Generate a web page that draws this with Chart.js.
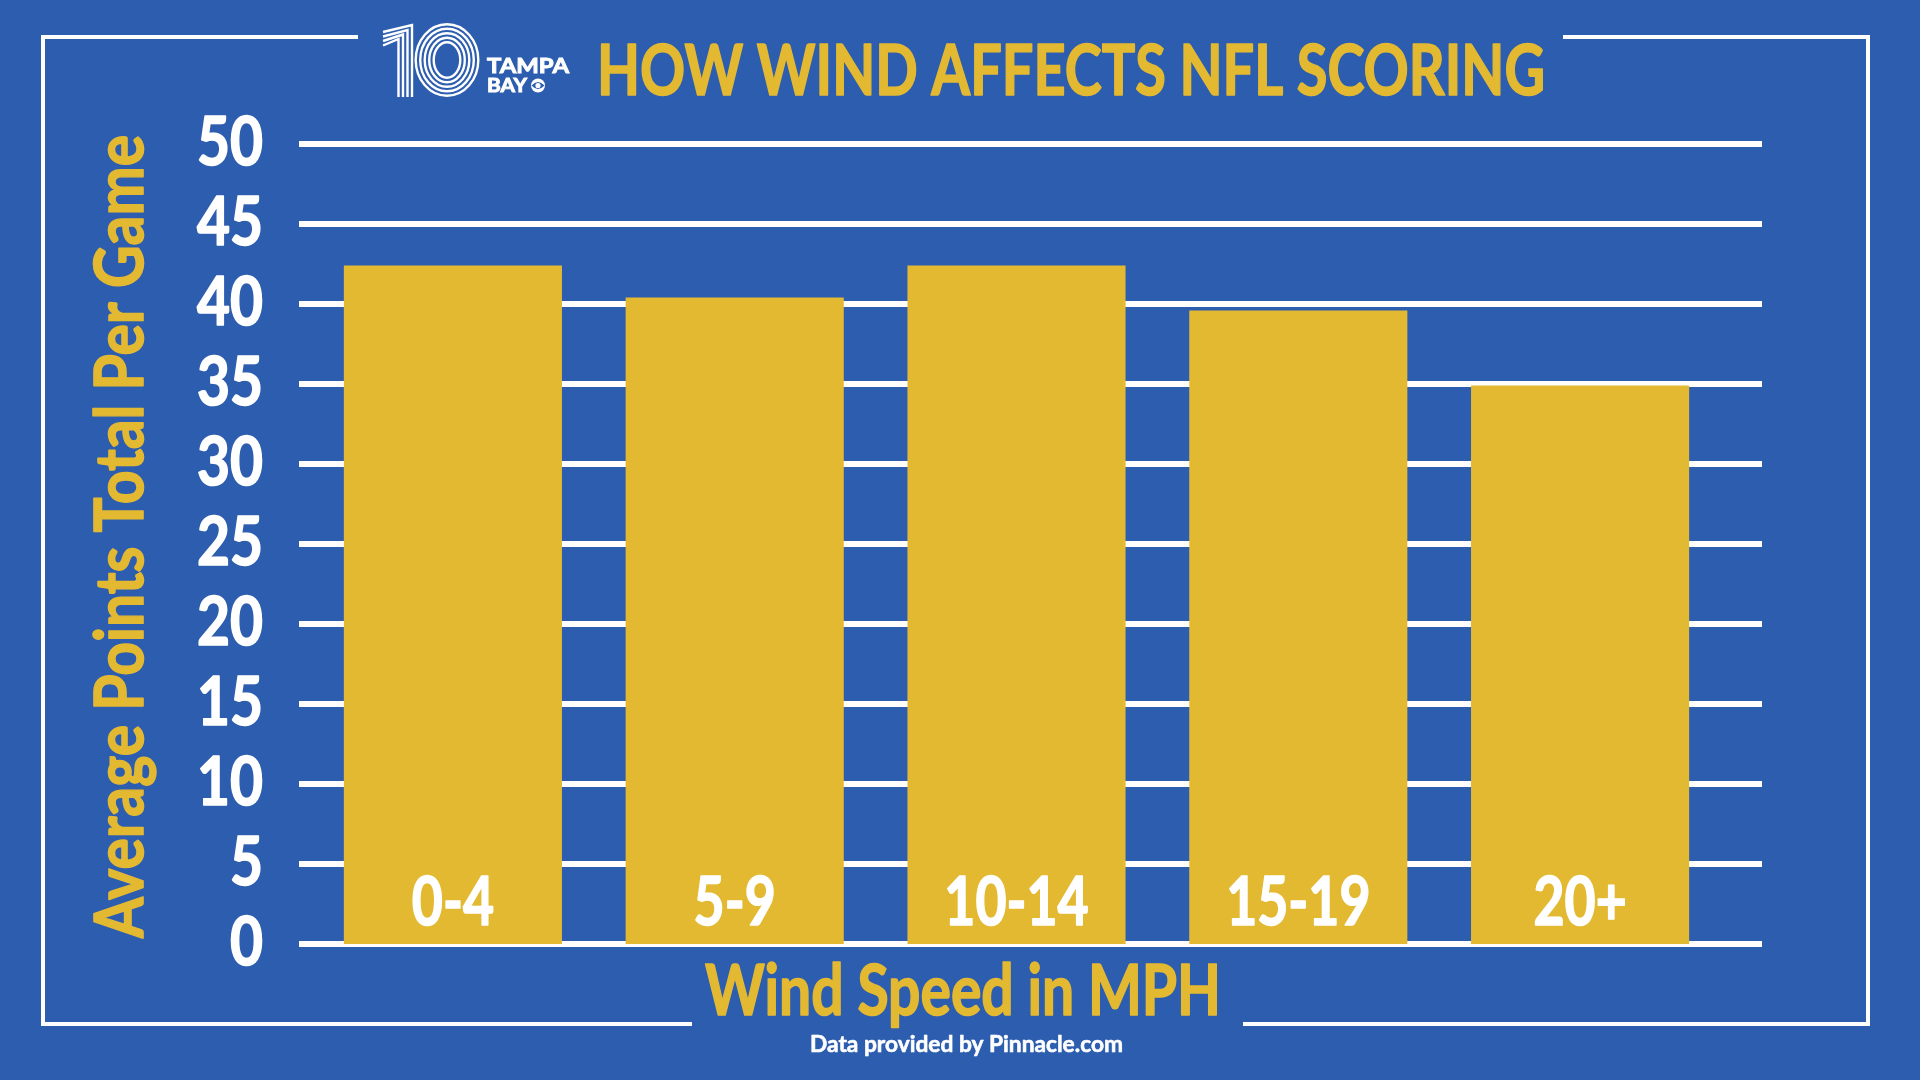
<!DOCTYPE html>
<html>
<head>
<meta charset="utf-8">
<title>How Wind Affects NFL Scoring</title>
<script src="https://cdn.jsdelivr.net/npm/chart.js@4.4.1/dist/chart.umd.min.js"></script>
<style>
  html, body { margin: 0; padding: 0; background: #2c5dae; }
  #wrap { position: relative; width: 1920px; height: 1080px; overflow: hidden; }
  #windChart { display: block; }
  #logo { position: absolute; left: 370px; top: 15px; }
</style>
</head>
<body>
<div id="wrap">
  <canvas id="windChart" width="1920" height="1080"></canvas>
  <svg id="logo" width="200" height="95" viewBox="0 0 200 95">
    <g fill="none" stroke="#fff" stroke-width="2.4">
      <path d="M42 82 V10 L13 17" />
      <path d="M37.5 82 V15 L13 21.5" />
      <path d="M33 82 V19.5 L13 26" />
      <path d="M28.5 82 V24 L13 30.5" />
      <ellipse cx="77" cy="45" rx="31.3" ry="35.8" />
      <ellipse cx="77" cy="45" rx="26.8" ry="31.3" />
      <ellipse cx="77" cy="45" rx="22.3" ry="26.8" />
      <ellipse cx="77" cy="45" rx="17.8" ry="22.3" />
      <ellipse cx="77" cy="45" rx="13.3" ry="17.8" />
    </g>
    <g fill="#fff" stroke="#fff" stroke-width="0.9" font-family="Lato" font-weight="700">
      <text x="117" y="58" font-size="20" textLength="82" lengthAdjust="spacingAndGlyphs">TAMPA</text>
      <text x="117" y="77" font-size="19" textLength="40" lengthAdjust="spacingAndGlyphs">BAY</text>
    </g>
    <circle cx="168" cy="70.5" r="7" fill="#fff" />
    <path d="M161.5 70.5 Q168 63.5 174.5 70.5 Q168 77.5 161.5 70.5 Z" fill="#2c5dae" />
    <circle cx="168" cy="70.5" r="2.6" fill="#fff" />
  </svg>
</div>
<script>
const windRanges = ["0-4", "5-9", "10-14", "15-19", "20+"];
const avgPoints = [42.4, 40.4, 42.4, 39.6, 34.9];
const yMin = 0;
const yMax = 50;
const yStep = 5;

const chartTitle = "HOW WIND AFFECTS NFL SCORING";
const xTitle = "Wind Speed in MPH";
const yTitle = "Average Points Total Per Game";
const sourceNote = "Data provided by Pinnacle.com";

const BLUE = "#2c5dae";
const GOLD = "#e4b932";
const WHITE = "#ffffff";
const FONT = "Lato";

// draws text squeezed horizontally, either to a target width or by a factor,
// with a thin outline in the same colour to make it a bit heavier
function drawText(ctx, text, x, y, o) {
  ctx.save();
  ctx.font = `700 ${o.size}px ${FONT}`;
  const w = ctx.measureText(text).width;
  const k = o.width ? o.width / w : o.squeeze || 1;
  ctx.translate(x, y);
  if (o.rotate) ctx.rotate(o.rotate);
  ctx.scale(k, 1);
  ctx.fillStyle = o.color;
  ctx.strokeStyle = o.color;
  ctx.lineWidth = o.heavy == null ? 1.6 : o.heavy;
  ctx.lineJoin = "round";
  ctx.textAlign = o.align || "left";
  ctx.textBaseline = "alphabetic";
  ctx.fillText(text, 0, 0);
  if (ctx.lineWidth > 0) ctx.strokeText(text, 0, 0);
  ctx.restore();
}

const framePlugin = {
  id: "frame",
  beforeDraw(chart) {
    const ctx = chart.ctx;
    ctx.save();
    ctx.fillStyle = BLUE;
    ctx.fillRect(0, 0, chart.width, chart.height);
    ctx.strokeStyle = WHITE;
    ctx.lineWidth = 4;
    ctx.beginPath();
    ctx.moveTo(358, 37); ctx.lineTo(43, 37); ctx.lineTo(43, 1024); ctx.lineTo(692, 1024);
    ctx.moveTo(1563, 37); ctx.lineTo(1868, 37); ctx.lineTo(1868, 1024); ctx.lineTo(1243, 1024);
    ctx.stroke();
    ctx.restore();
  },
  beforeDatasetsDraw(chart) {
    // thick yard-line style grid, a bit wider than the plot area
    const { ctx, chartArea, scales } = chart;
    ctx.save();
    ctx.fillStyle = WHITE;
    scales.y.ticks.forEach((t) => {
      const y = scales.y.getPixelForValue(t.value);
      ctx.fillRect(chartArea.left - 13, y - 3, chartArea.right - chartArea.left + 54, 6);
    });
    ctx.restore();
  },
  afterDatasetsDraw(chart) {
    const { ctx, scales } = chart;
    const base = scales.y.getPixelForValue(0);
    chart.data.labels.forEach((lab, i) => {
      drawText(ctx, lab, scales.x.getPixelForValue(i), base - 19, {
        size: 67, color: WHITE, align: "center", squeeze: 0.8,
      });
    });
    scales.y.ticks.forEach((t) => {
      drawText(ctx, String(t.value), chart.chartArea.left - 49, scales.y.getPixelForValue(t.value) + 21, {
        size: 67, color: WHITE, align: "right", squeeze: 0.85,
      });
    });
  },
  afterDraw(chart) {
    const ctx = chart.ctx;
    drawText(ctx, chartTitle, 597, 95, { size: 70, color: GOLD, width: 948 });
    drawText(ctx, xTitle, 705, 1015, { size: 70, color: GOLD, width: 516 });
    drawText(ctx, sourceNote, 810, 1052, { size: 23, color: WHITE, width: 313, heavy: 0.6 });
    drawText(ctx, yTitle, 143, 938, { size: 67, color: GOLD, width: 803, rotate: -Math.PI / 2 });
  },
};

function buildChart() {
  new Chart(document.getElementById("windChart"), {
    type: "bar",
    data: {
      labels: windRanges,
      datasets: [
        {
          label: "Average points",
          data: avgPoints,
          backgroundColor: GOLD,
          borderWidth: 0,
          categoryPercentage: 1,
          barPercentage: 0.774,
        },
      ],
    },
    options: {
      responsive: false,
      animation: false,
      devicePixelRatio: 1,
      layout: { padding: { left: 312, right: 199, top: 144, bottom: 136 } },
      scales: {
        x: { display: false },
        y: { display: false, min: yMin, max: yMax, ticks: { stepSize: yStep } },
      },
      plugins: {
        legend: { display: false },
        tooltip: { enabled: false },
      },
    },
    plugins: [framePlugin],
  });
}

if (document.fonts && document.fonts.load) {
  document.fonts.load(`700 70px ${FONT}`).then(buildChart, buildChart);
} else {
  buildChart();
}
</script>
</body>
</html>
